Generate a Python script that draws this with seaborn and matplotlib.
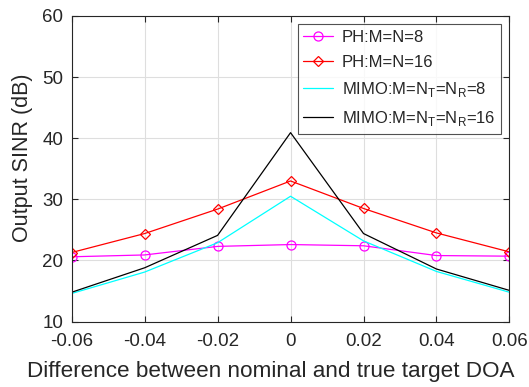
import numpy as np
import pandas as pd
import matplotlib
matplotlib.use("Agg")
import matplotlib.pyplot as plt
import seaborn as sns

# values
doa_diff = [-0.06, -0.04, -0.02, 0.0, 0.02, 0.04, 0.06]
ph_8 = [20.6, 20.9, 22.3, 22.6, 22.4, 20.8, 20.7]
ph_16 = [21.3, 24.4, 28.4, 33.0, 28.5, 24.5, 21.4]
mimo_8 = [14.6, 18.1, 22.9, 30.5, 23.2, 18.2, 14.8]
mimo_16 = [14.8, 18.8, 24.1, 40.9, 24.4, 18.6, 15.1]

labels = ["PH:M=N=8", "PH:M=N=16",
          r"MIMO:M=N$_\mathregular{T}$=N$_\mathregular{R}$=8",
          r"MIMO:M=N$_\mathregular{T}$=N$_\mathregular{R}$=16"]
series = [ph_8, ph_16, mimo_8, mimo_16]

df = pd.DataFrame({
    "x": doa_diff * 4,
    "y": sum(series, []),
    "curve": [lab for lab in labels for _ in doa_diff],
})

sns.set_style("white")
plt.rcParams["font.family"] = ["Liberation Sans", "DejaVu Sans"]
plt.rcParams["mathtext.fontset"] = "custom"
plt.rcParams["mathtext.rm"] = "Liberation Sans"
text_col = "#262626"

fig = plt.figure(figsize=(5.29, 3.87), dpi=100)
ax = fig.add_axes([0.1355, 0.169, 0.8275, 0.790])

colors = ["magenta", "red", "cyan", "black"]
markers = ["o", "D", None, None]
msizes = [6.5, 5.5, 0, 0]
for lab, c, m, ms in zip(labels, colors, markers, msizes):
    sub = df[df["curve"] == lab]
    sns.lineplot(data=sub, x="x", y="y", ax=ax, color=c, lw=0.9,
                 marker=m, markersize=ms,
                 markerfacecolor="none", markeredgecolor=c,
                 markeredgewidth=0.9, label=lab)

ax.set_xlim(-0.06, 0.06)
ax.set_ylim(10, 60)
ax.set_xticks(doa_diff)
ax.set_xticklabels(["-0.06", "-0.04", "-0.02", "0", "0.02", "0.04", "0.06"])
ax.set_yticks([10, 20, 30, 40, 50, 60])
ax.grid(True, color="#dedede", lw=0.8)
ax.tick_params(direction="in", length=4, labelsize=13.5, colors=text_col,
               top=True, right=True, bottom=True, left=True)
ax.tick_params(axis="x", pad=8)
ax.tick_params(axis="y", pad=6)
for s in ax.spines.values():
    s.set_color(text_col)
    s.set_linewidth(0.8)
ax.set_xlabel("Difference between nominal and true target DOA",
              fontsize=16.2, color=text_col)
ax.set_ylabel("Output SINR (dB)", fontsize=15.5, color=text_col)
ax.xaxis.set_label_coords(0.455, -0.128)
ax.yaxis.set_label_coords(-0.088, 0.535)

leg = ax.legend(loc="upper right", fontsize=12, frameon=True, fancybox=False,
                edgecolor=text_col, handlelength=1.8, handletextpad=0.5,
                borderaxespad=0.5, labelspacing=0.6, borderpad=0.35)
leg.get_frame().set_linewidth(0.8)
for t in leg.get_texts():
    t.set_color(text_col)

fig.savefig("out.png", dpi=100)
